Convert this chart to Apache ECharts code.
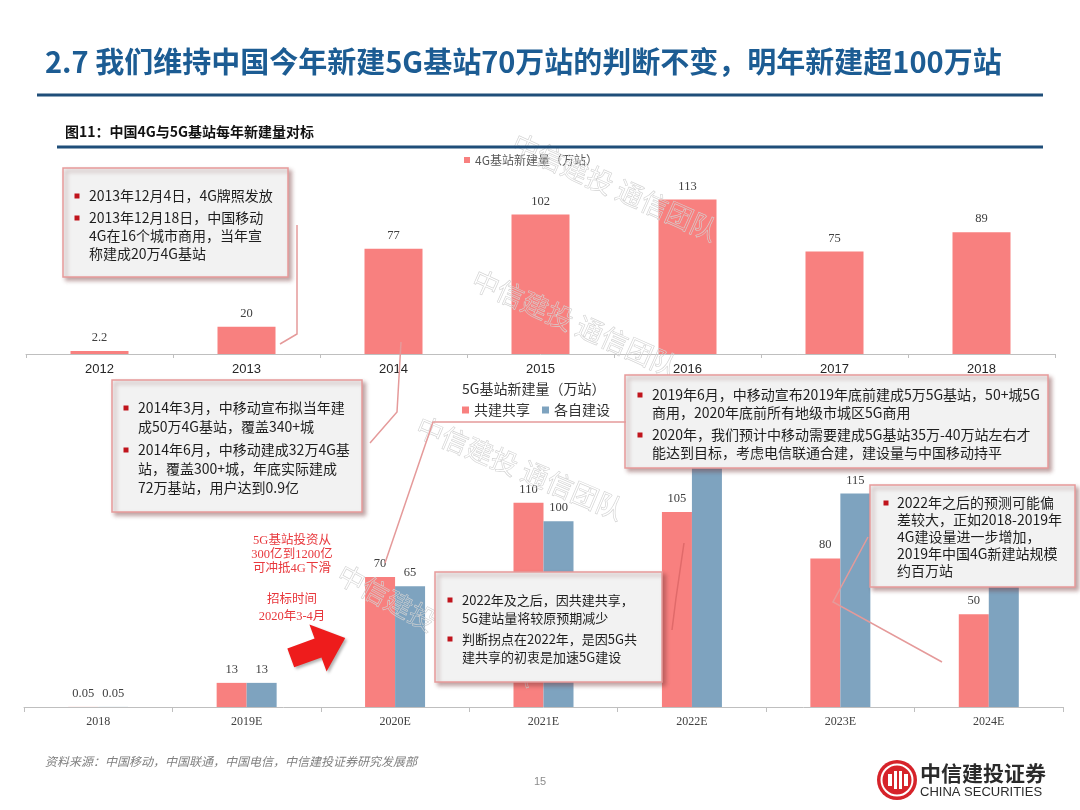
<!DOCTYPE html>
<html><head><meta charset="utf-8">
<script src="https://cdn.jsdelivr.net/npm/echarts@6/dist/echarts.min.js"></script>
<style>html,body{margin:0;padding:0;background:#fff}#c{width:1080px;height:810px}</style>
</head><body><div id="c"></div>
<script>
// ---- data ----
const years4G = ['2012','2013','2014','2015','2016','2017','2018'];
const values4G = [2.2, 20, 77, 102, 113, 75, 89];
const years5G = ['2018','2019E','2020E','2021E','2022E','2023E','2024E'];
const shared5G = [0.05, 13, 70, 110, 105, 80, 50];
const own5G = [0.05, 13, 65, 100, 140, 115, 75];
const name4G = '4G基站新建量（万站）';
const nameShared = '共建共享';
const nameOwn = '各自建设';

const PINK = '#F8807F', BLUE = '#7EA3BF';
const CJK = '"Noto Sans CJK SC", sans-serif';
const SERIF = '"Liberation Serif", "Noto Sans CJK SC", serif';
const SANS = '"Liberation Sans", "Noto Sans CJK SC", sans-serif';

const G = [];
function T(x, y, text, o) {
  o = o || {};
  G.push({type:'text', x:x, y:y, z:o.z||120, rotation:o.rot||0, style:{
    text:text, x:0, y:0, fill:o.fill||'#222', fontSize:o.fs||14, fontFamily:o.ff||CJK,
    fontWeight:o.fw||'normal', fontStyle:o.fst||'normal', textAlign:o.align||'left', textVerticalAlign:'middle',
    stroke:o.stroke, lineWidth:o.lw||0 }});
}
function L(pts, color, w, z) {
  G.push({type:'polyline', z:z||110, shape:{points:pts}, style:{stroke:color||'#E59A9A', lineWidth:w||1.5, fill:null}});
}
function box(b) {
  G.push({type:'rect', z:100, shape:{x:b.x,y:b.y,width:b.w,height:b.h},
    style:{fill:'#F2F2F2', stroke:'#E79B9B', lineWidth:1.5, shadowBlur:4, shadowOffsetX:3, shadowOffsetY:3, shadowColor:'rgba(120,60,60,0.45)'}});
  b.lines.forEach(function(l){
    if (l[2]) G.push({type:'rect', z:110, shape:{x:b.bx-2.5, y:l[0]-2.5, width:5, height:5}, style:{fill:'#C0141C'}});
    T(b.tx, l[0], l[1], {fs:b.fs, fill:'#1E1E1E'});
  });
}

// header
T(45, 62, '2.7 我们维持中国今年新建5G基站70万站的判断不变，明年新建超100万站', {fs:29, fill:'#1C5C93', fw:'bold'});
G.push({type:'line', z:100, shape:{x1:37,y1:95,x2:1043,y2:95}, style:{stroke:'#1F4E79', lineWidth:3}});
T(65, 132, '图11：中国4G与5G基站每年新建量对标', {fs:14, fw:'bold', fill:'#111'});
G.push({type:'line', z:100, shape:{x1:57,y1:147,x2:1043,y2:147}, style:{stroke:'#1F4E79', lineWidth:3}});
T(462, 389, '5G基站新建量（万站）', {fs:14, fill:'#333'});

// watermarks
[[615,187,-0.42],[575,323,-0.42],[520,468,-0.40],[437,625,-0.50]].forEach(function(w){
  T(w[0], w[1], '中信建投 通信团队', {fs:27, align:'center', rot:w[2], fill:'rgba(255,255,255,0)', stroke:'#D2D2D2', lw:0.6, z:60});
});

// connectors
L([[297,225],[297,334],[280,344]]);
L([[370,443],[397,412],[401,342]]);
L([[626,422],[433,422],[385,563]]);
L([[868,537],[833,602],[942,662]]);
L([[684,543],[676,598],[672,630]], '#E06A6A', 1.5);

// callout boxes
box({x:63,y:168,w:225,h:109,fs:14,tx:89,bx:77,lines:[
  [196,'2013年12月4日，4G牌照发放',true],[218,'2013年12月18日，中国移动',true],
  [236,'4G在16个城市商用，当年宣'],[254,'称建成20万4G基站']]});
box({x:112,y:380,w:250,h:132,fs:14,tx:138,bx:126,lines:[
  [408,'2014年3月，中移动宣布拟当年建',true],[427,'成50万4G基站，覆盖340+城'],
  [450,'2014年6月，中移动建成32万4G基',true],[469,'站，覆盖300+城，年底实际建成'],[488,'72万基站，用户达到0.9亿']]});
box({x:625,y:375,w:423,h:93,fs:14,tx:652,bx:640,lines:[
  [395,'2019年6月，中移动宣布2019年底前建成5万5G基站，50+城5G',true],[413,'商用，2020年底前所有地级市城区5G商用'],
  [435,'2020年，我们预计中移动需要建成5G基站35万-40万站左右才',true],[453,'能达到目标，考虑电信联通合建，建设量与中国移动持平']]});
box({x:435,y:572,w:227,h:110,fs:13,tx:462,bx:450,lines:[
  [600,'2022年及之后，因共建共享，',true],[618,'5G建站量将较原预期减少'],
  [639,'判断拐点在2022年，是因5G共',true],[657,'建共享的初衷是加速5G建设']]});
box({x:870,y:485,w:205,h:102,fs:14,tx:897,bx:886,lines:[
  [503,'2022年之后的预测可能偏',true],[520,'差较大，正如2018-2019年'],[537,'4G建设量进一步增加，'],
  [554,'2019年中国4G新建站规模'],[571,'约百万站']]});

// red notes + arrow
['5G基站投资从','300亿到1200亿','可冲抵4G下滑'].forEach(function(s,i){ T(292, 541+i*14, s, {fs:12.5, ff:SERIF, fill:'#E8383D', align:'center'}); });
T(292, 600, '招标时间', {fs:12.5, ff:SERIF, fill:'#E8383D', align:'center'});
T(292, 617, '2020年3-4月', {fs:12.5, ff:SERIF, fill:'#E8383D', align:'center'});
G.push({type:'polygon', x:318, y:648, rotation:0.35, z:110,
  shape:{points:[[-29,-10],[0,-10],[0,-25],[29,0],[0,25],[0,10],[-29,10]]},
  style:{fill:'#EE1C1C', shadowBlur:3, shadowOffsetX:2, shadowOffsetY:2, shadowColor:'rgba(0,0,0,0.3)'}});

// footer
T(45, 761, '资料来源：中国移动，中国联通，中国电信，中信建投证券研究发展部', {fs:12, fst:'italic', fill:'#808080'});
T(540, 782, '15', {fs:11, fill:'#8C8C8C', align:'center', ff:SANS});
G.push({type:'circle', z:100, shape:{cx:897,cy:780,r:20}, style:{fill:'#D6232A'}});
G.push({type:'circle', z:101, shape:{cx:897,cy:780,r:15.5}, style:{fill:'none', stroke:'#fff', lineWidth:2}});
[[-9,-6,4,12],[-3,-9,3,18],[2,-9,3,18],[7,-6,4,12]].forEach(function(r){
  G.push({type:'rect', z:102, shape:{x:897+r[0],y:780+r[1],width:r[2],height:r[3]}, style:{fill:'#fff'}});
});
T(920, 773, '中信建投证券', {fs:21, fw:'bold', fill:'#2B2B2B'});
T(920, 792, 'CHINA SECURITIES', {fs:13, fill:'#2B2B2B', ff:SANS});

const labelTop = {show:true, position:'top', distance:7, fontFamily:SERIF, fontSize:12.5, color:'#404040'};

const option = {
  backgroundColor:'#fff',
  animation:false,
  legend:[
    {data:[name4G], left:464, top:154, padding:0, itemWidth:6, itemHeight:6, icon:'rect',
     textStyle:{fontSize:12, color:'#595959', fontFamily:CJK}},
    {data:[nameShared, nameOwn], left:462, top:403, padding:0, itemWidth:7, itemHeight:7, itemGap:12, icon:'rect',
     textStyle:{fontSize:14, color:'#333', fontFamily:CJK}}
  ],
  grid:[
    {left:26, right:25, top:190, bottom:456},
    {left:24, right:17, top:428.5, bottom:103}
  ],
  xAxis:[
    {type:'category', gridIndex:0, data:years4G,
     axisLine:{lineStyle:{color:'#BFBFBF'}}, axisTick:{show:true, length:4, lineStyle:{color:'#BFBFBF'}},
     axisLabel:{fontSize:13, color:'#262626', fontFamily:SANS, margin:9}},
    {type:'category', gridIndex:1, data:years5G,
     axisLine:{lineStyle:{color:'#BFBFBF'}}, axisTick:{show:true, length:5, lineStyle:{color:'#BFBFBF'}},
     axisLabel:{fontSize:12, color:'#404040', fontFamily:SERIF, margin:9}}
  ],
  yAxis:[
    {type:'value', gridIndex:0, min:0, max:120, show:false, splitLine:{show:false}},
    {type:'value', gridIndex:1, min:0, max:150, show:false, splitLine:{show:false}}
  ],
  series:[
    {name:name4G, type:'bar', xAxisIndex:0, yAxisIndex:0, data:values4G, barWidth:58,
     itemStyle:{color:PINK}, label:labelTop},
    {name:nameShared, type:'bar', xAxisIndex:1, yAxisIndex:1, data:shared5G, barWidth:30, barGap:'0%',
     itemStyle:{color:PINK}, label:labelTop},
    {name:nameOwn, type:'bar', xAxisIndex:1, yAxisIndex:1, data:own5G, barWidth:30, barGap:'0%',
     itemStyle:{color:BLUE}, label:labelTop}
  ],
  graphic:{elements:G}
};
const chart = echarts.init(document.getElementById('c'));
chart.setOption(option);
</script>
</body></html>
